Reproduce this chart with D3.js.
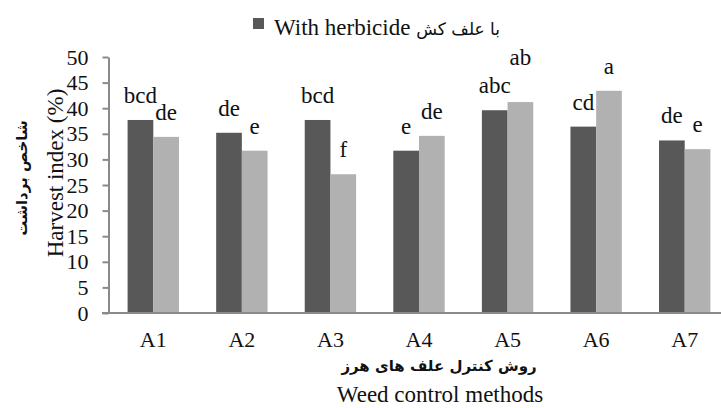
<!DOCTYPE html>
<html>
<head>
<meta charset="utf-8">
<script src="https://cdn.jsdelivr.net/npm/d3@7"></script>
<style>
  html, body { margin: 0; padding: 0; background: #fff; }
  svg { display: block; }
</style>
</head>
<body>
<svg id="chart" width="721" height="408"></svg>
<script>
// data
const methods = ['A1', 'A2', 'A3', 'A4', 'A5', 'A6', 'A7'];
const withHerbicide    = [37.7, 35.2, 37.7, 31.7, 39.6, 36.4, 33.7];
const withoutHerbicide = [34.4, 31.7, 27.1, 34.6, 41.2, 43.4, 32.0];
const lettersWith    = ['bcd', 'de', 'bcd', 'e', 'abc', 'cd', 'de'];
const lettersWithout = ['de', 'e', 'f', 'de', 'ab', 'a', 'e'];
const yTicks = [0, 5, 10, 15, 20, 25, 30, 35, 40, 45, 50];

const seriesNames = ['With herbicide', 'Without herbicide'];
const seriesColors = ['#585858', '#b1b1b1'];

const SERIF = '"Liberation Serif", "Times New Roman", Times, serif';
const FA = '"DejaVu Sans", sans-serif';

// layout
const plot = { left: 109, right: 729, top: 57, bottom: 313 };
// label lifted above its neighbour in the original (A5, second bar)
const extraLift = { 'A5-1': 20 };

const svg = d3.select('#chart');

const x = d3.scaleBand()
  .domain(methods)
  .range([plot.left, plot.right])
  .paddingInner(0.42)
  .paddingOuter(0.21);

const x1 = d3.scaleBand()
  .domain([0, 1])
  .range([0, x.bandwidth()]);

const y = d3.scaleLinear()
  .domain([0, 50])
  .range([plot.bottom, plot.top]);

const rows = methods.map((m, i) => ({
  m,
  vals: [withHerbicide[i], withoutHerbicide[i]],
  letters: [lettersWith[i], lettersWithout[i]]
}));

// bars
const groups = svg.append('g').selectAll('g.grp')
  .data(rows).join('g')
  .attr('class', 'grp')
  .attr('transform', d => `translate(${x(d.m)},0)`);

groups.selectAll('rect')
  .data(d => d.vals.map((v, k) => ({ v, k })))
  .join('rect')
  .attr('x', d => x1(d.k))
  .attr('y', d => y(d.v))
  .attr('width', x1.bandwidth())
  .attr('height', d => y(0) - y(d.v))
  .attr('fill', d => seriesColors[d.k]);

// significance letters
groups.selectAll('text.sig')
  .data(d => d.vals.map((v, k) => ({ v, k, t: d.letters[k], key: `${d.m}-${k}` })))
  .join('text')
  .attr('class', 'sig')
  .attr('x', d => x1(d.k) + x1.bandwidth() / 2)
  .attr('y', d => y(d.v) - 17 - (extraLift[d.key] || 0))
  .attr('text-anchor', 'middle')
  .style('font-family', SERIF)
  .style('font-size', '23px')
  .style('fill', '#111')
  .text(d => d.t);

// y axis
const yAxis = svg.append('g')
  .attr('transform', `translate(${plot.left - 0.5},0)`)
  .call(d3.axisLeft(y).tickValues(yTicks).tickSize(6).tickSizeOuter(0).tickPadding(14));
yAxis.select('.domain').attr('stroke', '#8a8a8a').attr('stroke-width', 2);
yAxis.selectAll('.tick line').attr('stroke', '#8a8a8a').attr('stroke-width', 2);
yAxis.selectAll('.tick text')
  .style('font-family', SERIF)
  .style('font-size', '22px')
  .style('fill', '#111');

// x axis
const xAxis = svg.append('g')
  .attr('transform', `translate(0,${plot.bottom})`)
  .call(d3.axisBottom(x).tickSize(0).tickSizeOuter(0).tickPadding(14));
xAxis.select('.domain')
  .attr('d', `M${plot.left - 7},0H${plot.right}`)
  .attr('stroke', '#8a8a8a').attr('stroke-width', 2);
xAxis.selectAll('.tick text')
  .style('font-family', SERIF)
  .style('font-size', '22px')
  .style('fill', '#111')
  .attr('dy', '0.9em');

// axis titles
svg.append('text')
  .attr('x', 439).attr('y', 371)
  .attr('text-anchor', 'middle')
  .style('font-family', FA)
  .style('font-size', '15px')
  .style('font-weight', 'bold')
  .style('fill', '#111')
  .text('روش کنترل علف های هرز');

svg.append('text')
  .attr('x', 440).attr('y', 402)
  .attr('text-anchor', 'middle')
  .style('font-family', SERIF)
  .style('font-size', '23px')
  .style('fill', '#111')
  .text('Weed control methods');

svg.append('text')
  .attr('transform', 'translate(63,173) rotate(-90)')
  .attr('text-anchor', 'middle')
  .style('font-family', SERIF)
  .style('font-size', '23px')
  .style('fill', '#111')
  .text('Harvest index (%)');

svg.append('text')
  .attr('transform', 'translate(27,178) rotate(-90)')
  .attr('text-anchor', 'middle')
  .style('font-family', FA)
  .style('font-size', '15px')
  .style('font-weight', 'bold')
  .style('fill', '#111')
  .text('شاخص برداشت');

// legend (only first entry is visible in the original)
const legend = svg.append('g');
legend.append('rect')
  .attr('x', 253).attr('y', 18)
  .attr('width', 11).attr('height', 11)
  .attr('fill', seriesColors[0]);
const lt = legend.append('text')
  .attr('x', 274).attr('y', 35)
  .style('font-family', SERIF)
  .style('font-size', '23px')
  .style('fill', '#111');
lt.append('tspan').text(seriesNames[0] + ' ');
lt.append('tspan')
  .style('font-family', FA)
  .style('font-size', '17px')
  .text('با علف کش');
</script>
</body>
</html>
